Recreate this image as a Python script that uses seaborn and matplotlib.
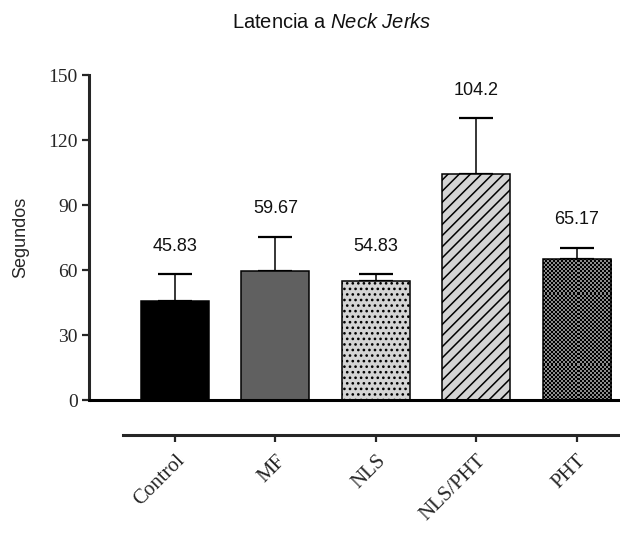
import numpy as np
import pandas as pd
import matplotlib
matplotlib.use("Agg")
import matplotlib.pyplot as plt
import seaborn as sns

# Group means, upper SEM and bar styling
groups = ["Control", "MF", "NLS", "NLS/PHT", "PHT"]
means = [45.83, 59.67, 54.83, 104.2, 65.17]
sem = [12.2, 15.7, 3.2, 25.8, 5.1]
value_labels = ["45.83", "59.67", "54.83", "104.2", "65.17"]
fills = ["#000000", "#606060", "#d4d4d4", "#d4d4d4", "#8c8c8c"]
hatches = [None, None, "...", "///", None]
yticks = [0, 30, 60, 90, 120, 150]

sns.set_style("ticks")
plt.rcParams["font.family"] = ["Liberation Sans", "DejaVu Sans"]
plt.rcParams["hatch.linewidth"] = 1.1
plt.rcParams["mathtext.fontset"] = "custom"
plt.rcParams["mathtext.it"] = "Liberation Sans:italic"
plt.rcParams["mathtext.rm"] = "Liberation Sans"

df = pd.DataFrame({"grupo": groups, "media": means})

fig = plt.figure(figsize=(6.2, 5.5), dpi=100)
ax = fig.add_axes([0.1435, 0.2727, 0.8565, 0.5909])

sns.barplot(data=df, x="grupo", y="media", hue="grupo", palette=fills,
            legend=False, width=0.677, edgecolor="black", linewidth=1.1,
            saturation=1, ax=ax, zorder=2)

for patch, h in zip(ax.patches, hatches):
    if h:
        patch.set_hatch(h)

# checkerboard texture for the last bar, clipped to its rectangle
pht = ax.patches[len(groups) - 1]
bx, by = pht.get_x(), pht.get_y()
bw, bh = pht.get_width(), pht.get_height()
cells_x, cells_y = 34, 70
checker = (np.add.outer(np.arange(cells_y), np.arange(cells_x)) % 2).astype(float)
img = ax.imshow(checker, cmap=matplotlib.colors.ListedColormap(["#000000", "#8c8c8c"]),
                extent=(bx, bx + bw, by, by + bh), aspect="auto",
                interpolation="nearest", zorder=2.5)
img.set_clip_path(pht)
pht.set_facecolor("none")
pht.set_zorder(3)

xpos = np.arange(len(groups))
ax.errorbar(xpos, means, yerr=[np.zeros(len(sem)), sem], fmt="none",
            ecolor="black", elinewidth=1.1, capsize=12, capthick=1.6, zorder=1)

for x, m, s, lab in zip(xpos, means, sem, value_labels):
    ax.annotate(lab, xy=(x, m + s), xytext=(0, 20), textcoords="offset points",
                ha="center", va="center", fontsize=13, color="#111111")

ax.set_xlim(-0.856, 4.43)
ax.set_ylim(0, 150)
ax.set_yticks(yticks)
ax.set_yticklabels([str(v) for v in yticks], family="Liberation Serif", fontsize=14)
ax.set_ylabel("Segundos", fontsize=13, labelpad=14)
ax.set_xlabel("")

# zero line spanning the plot, separate category axis below it
ax.axhline(0, color="black", lw=2.2, clip_on=False, zorder=4)
for side in ["top", "right"]:
    ax.spines[side].set_visible(False)
ax.spines["left"].set_linewidth(2.2)
ax.spines["bottom"].set_linewidth(2.2)
ax.spines["bottom"].set_position(("outward", 25))
ax.spines["bottom"].set_bounds(-0.517, 4.43)

ax.tick_params(axis="y", direction="out", length=5, width=1.6, pad=3)
ax.tick_params(axis="x", direction="out", length=5, width=1.6, pad=7)
ax.set_xticks(xpos)
ax.set_xticklabels(groups, family="Liberation Serif", fontsize=15,
                   rotation=45, ha="right", va="top", rotation_mode="anchor")

fig.text(0.535, 0.96, r"Latencia a $\it{Neck\ Jerks}$", ha="center", va="center",
         fontsize=14.5, color="#111111")

fig.savefig("out.png", dpi=100)
